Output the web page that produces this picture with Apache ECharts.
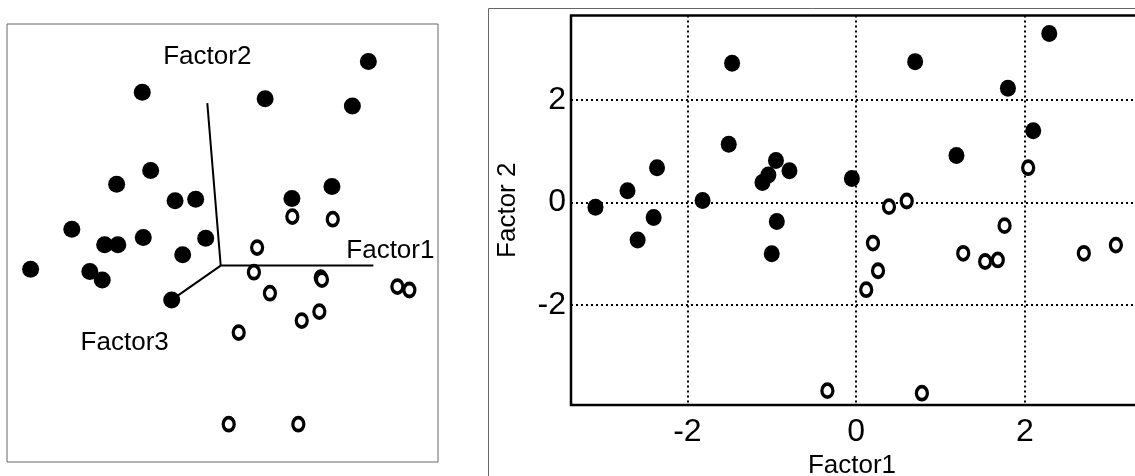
<!DOCTYPE html>
<html>
<head>
<meta charset="utf-8">
<script src="https://cdn.jsdelivr.net/npm/echarts@6/dist/echarts.min.js"></script>
<style>
html, body { margin: 0; padding: 0; background: #fff; }
#chart { width: 1135px; height: 476px; }
</style>
</head>
<body>
<div id="chart"></div>
<script>
// right panel: Factor1 / Factor2 scores
var filledF1 = [2.29, -1.47, 0.70, 1.80, 2.10, -1.51, 1.19, -0.95, -2.36, -0.79, -1.04, -1.11, -0.05, -2.71, -1.82, -3.09, -2.40, -0.94, -2.59, -1.00];
var filledF2 = [3.30, 2.72, 2.75, 2.23, 1.40, 1.14, 0.92, 0.82, 0.68, 0.62, 0.54, 0.39, 0.47, 0.23, 0.04, -0.09, -0.29, -0.37, -0.73, -1.00];
var openF1 = [2.04, 0.60, 0.39, 1.76, 0.20, 3.08, 1.27, 2.70, 1.53, 1.68, 0.26, 0.12, -0.34, 0.78];
var openF2 = [0.68, 0.03, -0.08, -0.45, -0.79, -0.83, -0.99, -0.99, -1.15, -1.12, -1.33, -1.70, -3.67, -3.72];
var tickValues = [-2, 0, 2];

// left panel: the same points in a projected 3D view (plane units)
var projFilledU = [3.69, -1.96, 1.11, 3.29, -1.75, -2.60, 2.78, -1.14, -0.625, 1.78, -3.72, -1.935, -0.375, -2.90, -2.57, -0.95, -4.75, -3.27, -2.96, -1.225];
var projFilledV = [5.10, 4.335, 4.17, 3.99, 2.375, 2.035, 1.975, 1.62, 1.66, 1.675, 0.91, 0.70, 0.685, 0.52, 0.52, 0.27, -0.09, -0.15, -0.36, -0.86];
var projOpenU = [1.79, 2.80, 0.91, 0.83, 1.23, 2.50, 2.53, 2.465, 2.025, 0.45, 4.415, 4.715, 0.20, 1.94];
var projOpenV = [1.225, 1.16, 0.45, -0.165, -0.69, -0.30, -0.35, -1.15, -1.375, -1.675, -0.525, -0.61, -3.965, -3.965];
var axisNames = ['Factor1', 'Factor2', 'Factor3'];
var axisEndU = [3.815, -0.335, -1.225];
var axisEndV = [0, 4.06, -0.8575];

function pairs(a, b) {
    return a.map(function (v, i) { return [v, b[i]]; });
}

var font = '"Liberation Sans", Arial, sans-serif';
var labelOffsets = [[17, -15], [0, -46], [-47, 43]];

var filledStyle = { color: '#000', opacity: 1 };
var openStyle = { color: '#fff', borderColor: '#000', borderWidth: 3.5, opacity: 1 };

var series = [];

// projected view
axisNames.forEach(function (n, i) {
    series.push({
        type: 'line', xAxisIndex: 0, yAxisIndex: 0,
        data: [[0, 0], [axisEndU[i], axisEndV[i]]],
        symbol: 'none', silent: true,
        lineStyle: { color: '#000', width: 2 }
    });
});
series.push({
    type: 'scatter', xAxisIndex: 0, yAxisIndex: 0,
    data: pairs(projFilledU, projFilledV),
    symbolSize: 17, itemStyle: filledStyle
});
series.push({
    type: 'scatter', xAxisIndex: 0, yAxisIndex: 0,
    data: pairs(projOpenU, projOpenV),
    symbolSize: [11, 13], itemStyle: openStyle
});
series.push({
    type: 'scatter', xAxisIndex: 0, yAxisIndex: 0,
    symbolSize: 0, silent: true,
    itemStyle: { opacity: 1 },
    data: axisNames.map(function (n, i) {
        return { name: n, value: [axisEndU[i], axisEndV[i]], label: { offset: labelOffsets[i] } };
    }),
    label: {
        show: true, position: 'inside', formatter: '{b}',
        fontFamily: font, fontSize: 26, color: '#000'
    }
});

// Factor1 vs Factor2
series.push({
    type: 'scatter', xAxisIndex: 1, yAxisIndex: 1,
    data: pairs(filledF1, filledF2),
    symbolSize: [16, 17], itemStyle: filledStyle
});
series.push({
    type: 'scatter', xAxisIndex: 1, yAxisIndex: 1,
    data: pairs(openF1, openF2),
    symbolSize: [11, 13], itemStyle: openStyle
});

var gridLine = { show: true, lineStyle: { color: '#000', type: [2, 3], width: 2 } };

var chart = echarts.init(document.getElementById('chart'));
chart.setOption({
    animation: false,
    backgroundColor: '#fff',
    graphic: [{
        type: 'rect', z: -1, silent: true,
        shape: { x: 488.5, y: 8.5, width: 700, height: 500 },
        style: { fill: 'none', stroke: '#666', lineWidth: 1 }
    }],
    grid: [
        { left: 7, top: 24, width: 431, height: 438, show: true, borderColor: '#666', borderWidth: 1, outerBoundsMode: 'none' },
        { left: 571, top: 15.5, width: 582, height: 389.5, show: true, borderColor: '#000', borderWidth: 2.5, outerBoundsMode: 'none' }
    ],
    xAxis: [
        { gridIndex: 0, type: 'value', min: -5.34, max: 5.43, show: false },
        {
            gridIndex: 1, type: 'value', min: -3.38, max: 3.52,
            name: 'Factor1', nameLocation: 'middle', nameGap: 48,
            nameTextStyle: { fontFamily: font, fontSize: 26, color: '#000', padding: [0, 20, 0, 0] },
            axisLine: { show: false },
            axisTick: { show: false, customValues: tickValues },
            axisLabel: { customValues: tickValues, fontFamily: font, fontSize: 32, color: '#000', margin: 11 },
            splitLine: gridLine
        }
    ],
    yAxis: [
        { gridIndex: 0, type: 'value', min: -4.91, max: 6.04, show: false },
        {
            gridIndex: 1, type: 'value', min: -3.95, max: 3.65,
            name: 'Factor 2', nameLocation: 'middle', nameGap: 50,
            nameTextStyle: { fontFamily: font, fontSize: 26, color: '#000' },
            axisLine: { show: false },
            axisTick: { show: false, customValues: tickValues },
            axisLabel: { customValues: tickValues, fontFamily: font, fontSize: 32, color: '#000', margin: 5 },
            splitLine: gridLine
        }
    ],
    series: series
});
</script>
</body>
</html>
